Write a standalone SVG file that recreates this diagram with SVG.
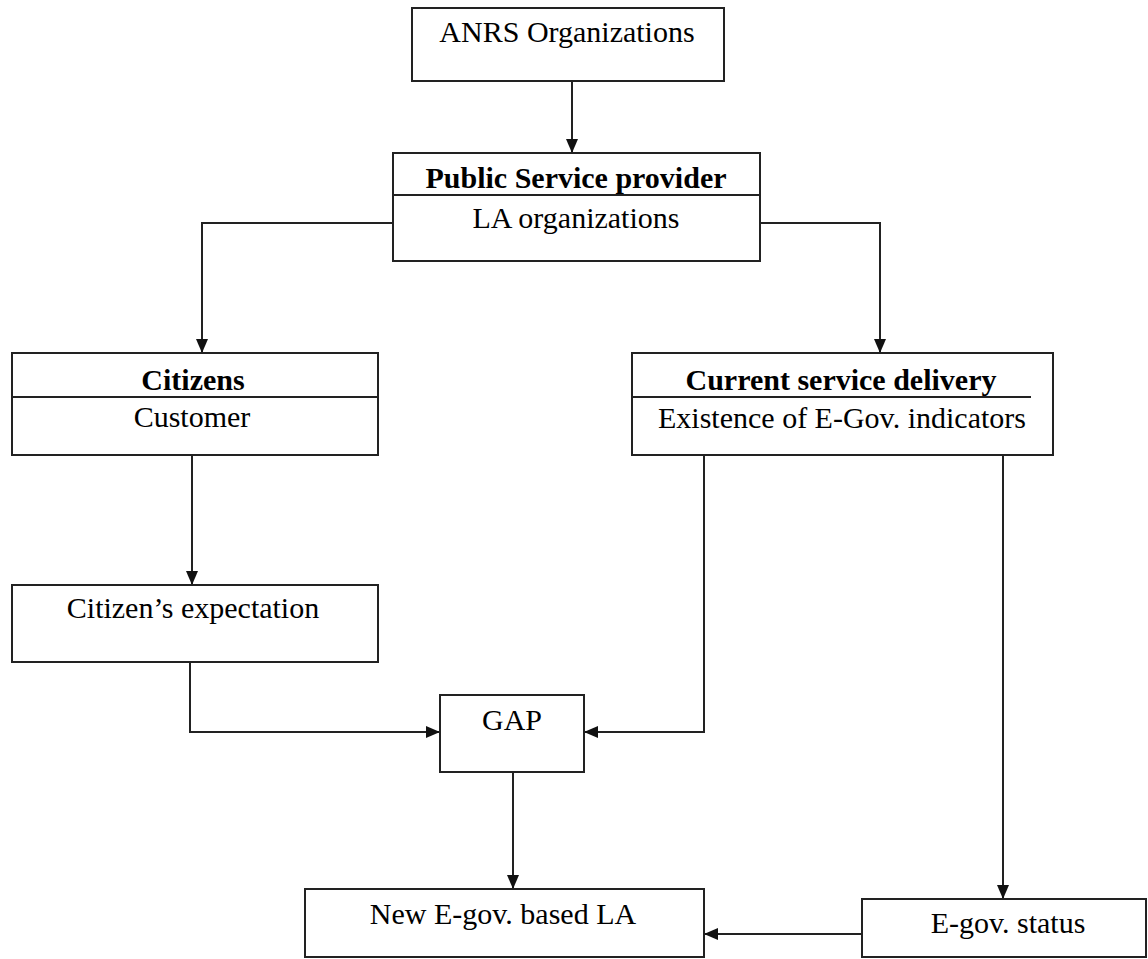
<svg xmlns="http://www.w3.org/2000/svg" width="1148" height="959" viewBox="0 0 1148 959">
<defs>
<style>
.box{fill:#fff;stroke:#222;stroke-width:2}
.div{stroke:#222;stroke-width:2}
.t{font-family:"Liberation Serif","Times New Roman",serif;font-size:30px;fill:#000;text-anchor:middle}
.b{font-weight:bold}
.c{fill:none;stroke:#222;stroke-width:2;marker-end:url(#ah)}
</style>
<marker id="ah" markerUnits="userSpaceOnUse" markerWidth="14" markerHeight="12" refX="14" refY="6" orient="auto">
<path d="M0,0 L14,6 L0,12 z" fill="#111"/>
</marker>
</defs>
<rect width="1148" height="959" fill="#fff"/>
<g id="connectors">
<path class="c" d="M572,81 V153"/>
<path class="c" d="M393,223 H202 V353"/>
<path class="c" d="M760,223 H880 V353"/>
<path class="c" d="M192,455 V585"/>
<path class="c" d="M190,662 V732 H440"/>
<path class="c" d="M704,455 V732 H584"/>
<path class="c" d="M513,772 V889"/>
<path class="c" d="M1003,455 V899"/>
<path class="c" d="M862,934 H704"/>
</g>
<g id="anrs">
<rect class="box" x="412" y="8" width="312" height="73"/>
<text class="t" x="567" y="42">ANRS Organizations</text>
</g>
<g id="psp">
<rect class="box" x="393" y="153" width="367" height="108"/>
<line class="div" x1="393" y1="195" x2="760" y2="195"/>
<text class="t b" x="576" y="188">Public Service provider</text>
<text class="t" x="576" y="228">LA organizations</text>
</g>
<g id="citizens">
<rect class="box" x="12" y="353" width="366" height="102"/>
<line class="div" x1="12" y1="397" x2="378" y2="397"/>
<text class="t b" x="193" y="390">Citizens</text>
<text class="t" x="192" y="427">Customer</text>
</g>
<g id="current">
<rect class="box" x="632" y="353" width="421" height="102"/>
<line class="div" x1="632" y1="397" x2="1031" y2="397"/>
<text class="t b" x="841" y="390">Current service delivery</text>
<text class="t" x="842" y="428">Existence of E-Gov. indicators</text>
</g>
<g id="expectation">
<rect class="box" x="12" y="585" width="366" height="77"/>
<text class="t" x="193" y="618">Citizen’s expectation</text>
</g>
<g id="gap">
<rect class="box" x="440" y="695" width="144" height="77"/>
<text class="t" x="512" y="730">GAP</text>
</g>
<g id="newegov">
<rect class="box" x="305" y="889" width="399" height="68"/>
<text class="t" x="503" y="924">New E-gov. based LA</text>
</g>
<g id="status">
<rect class="box" x="862" y="899" width="284" height="58"/>
<text class="t" x="1008" y="933">E-gov. status</text>
</g>
</svg>
